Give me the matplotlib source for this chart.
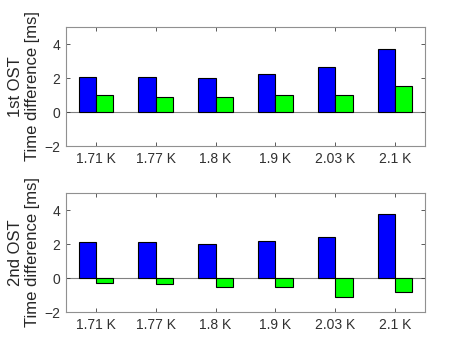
import matplotlib
matplotlib.use("Agg")
import matplotlib.pyplot as plt
import numpy as np

plt.rcParams['font.family'] = ['Liberation Sans', 'DejaVu Sans']

categories = ["1.71 K", "1.77 K", "1.8 K", "1.9 K", "2.03 K", "2.1 K"]
ost1_blue = [2.07, 2.03, 2.01, 2.24, 2.63, 3.71]
ost1_green = [0.99, 0.91, 0.87, 1.00, 0.99, 1.51]
ost2_blue = [2.11, 2.09, 1.99, 2.17, 2.40, 3.79]
ost2_green = [-0.29, -0.35, -0.51, -0.53, -1.13, -0.84]
ylabels = ["1st OST\nTime difference [ms]", "2nd OST\nTime difference [ms]"]

W, H = 469, 351
fig = plt.figure(figsize=(W/100, H/100), dpi=100)
axc = '#404040'

def make(ax, blue, green, ylabel):
    x = np.arange(1, len(categories) + 1)
    w = 0.29
    ax.bar(x - w/2, blue, w, color='#0000ff', edgecolor='black', linewidth=0.8, zorder=2)
    ax.bar(x + w/2, green, w, color='#00ff00', edgecolor='black', linewidth=0.8, zorder=2)
    ax.axhline(0, color='#808080', linewidth=0.8, zorder=1)
    ax.set_xlim(0.5, 6.5)
    ax.set_ylim(-2, 5)
    ax.set_yticks([-2, 0, 2, 4])
    ax.set_xticks(x)
    ax.set_xticklabels(categories)
    ax.tick_params(direction='in', top=True, right=True, length=3, width=0.6,
                   colors=axc, labelsize=10, labelcolor='#303030', pad=4)
    for s in ax.spines.values():
        s.set_color('#909090')
        s.set_linewidth(0.8)
    ax.set_ylabel(ylabel, fontsize=12, color='#262626', linespacing=1.15, labelpad=3)

ax1 = fig.add_axes([66/W, 1 - 146/H, (425-66)/W, (146-27)/H])
ax2 = fig.add_axes([66/W, 1 - 312/H, (425-66)/W, (312-193)/H])
make(ax1, ost1_blue, ost1_green, ylabels[0])
make(ax2, ost2_blue, ost2_green, ylabels[1])

fig.savefig("out.png", dpi=100)
